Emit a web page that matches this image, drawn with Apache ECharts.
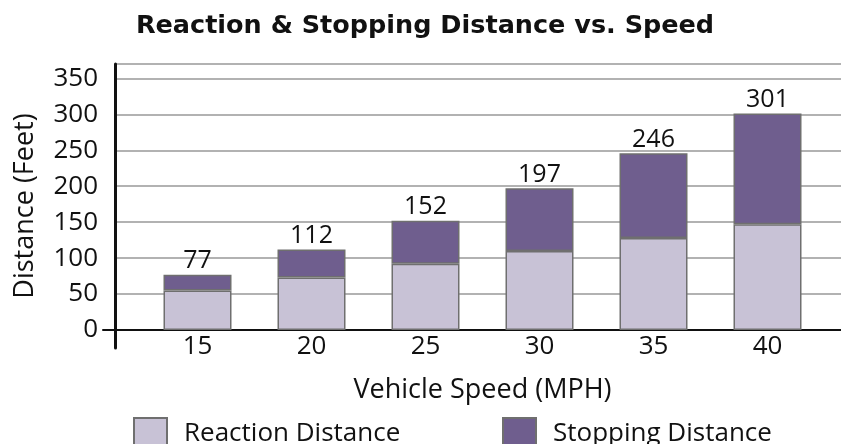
<!DOCTYPE html>
<html><head><meta charset="utf-8">
<script src="https://cdn.jsdelivr.net/npm/echarts@6/dist/echarts.min.js"></script>
<style>html,body{margin:0;padding:0;background:#fff}#c{width:841px;height:444px}</style>
</head><body><div id="c"></div>
<script>
const speeds = ['15', '20', '25', '30', '35', '40'];
const reaction = [55, 73, 92, 110, 128, 147];
const stopping = [22, 39, 60, 87, 118, 154];
const totals = [77, 112, 152, 197, 246, 301];
const yTicks = [0, 50, 100, 150, 200, 250, 300, 350];

const FONT = '"Open Sans", sans-serif';
const chart = echarts.init(document.getElementById('c'), null, {renderer: 'canvas'});
chart.setOption({
  animation: false,
  backgroundColor: '#fff',
  title: {
    text: 'Reaction & Stopping Distance vs. Speed',
    left: 420, top: 8, textAlign: 'center',
    textStyle: {fontFamily: '"DejaVu Sans", sans-serif', fontSize: 25.5, fontWeight: 'bold', color: '#111'}
  },
  legend: [
    {data: ['Reaction Distance'], left: 128, top: 412, itemWidth: 33, itemHeight: 31,
     icon: 'rect', textStyle: {fontFamily: FONT, fontSize: 26, fontWeight: 500, color: '#111', padding: [0,0,0,12]}},
    {data: ['Stopping Distance'], left: 497, top: 412, itemWidth: 33, itemHeight: 31,
     icon: 'rect', textStyle: {fontFamily: FONT, fontSize: 26, fontWeight: 500, color: '#111', padding: [0,0,0,12]}}
  ],
  grid: [
    {left: 115, right: 0, top: 64, bottom: 114, outerBoundsMode: 'none'},
    {left: 140.5, right: 16.5, top: 64, bottom: 114, outerBoundsMode: 'none'},
    {left: 103, right: 0, top: 64, bottom: 96, outerBoundsMode: 'none'}
  ],
  xAxis: [
    {gridIndex: 0, type: 'value', min: 0, max: 1, show: false},
    {gridIndex: 1, type: 'category', data: speeds,
     axisLine: {show: false}, axisTick: {show: false},
     axisLabel: {fontFamily: FONT, fontSize: 26, fontWeight: 500, color: '#111', margin: 4},
     name: 'Vehicle Speed (MPH)', nameLocation: 'middle', nameGap: 47,
     nameTextStyle: {fontFamily: FONT, fontSize: 27, fontWeight: 500, color: '#111'}},
    {gridIndex: 2, type: 'value', min: 0, max: 1,
     axisLine: {show: true, onZero: true, lineStyle: {color: '#111', width: 2}},
     axisTick: {show: false}, axisLabel: {show: false}, splitLine: {show: false}}
  ],
  yAxis: [
    {gridIndex: 0, type: 'value', min: 0, max: 370, interval: 50,
     axisLine: {show: false}, axisTick: {show: false},
     axisLabel: {fontFamily: FONT, fontSize: 26, fontWeight: 500, color: '#111', margin: 17,
       customValues: yTicks},
     splitLine: {show: true, lineStyle: {color: '#999', width: 1.5}}},
    {gridIndex: 1, type: 'value', min: 0, max: 370, show: false},
    {gridIndex: 2, type: 'value', min: -25, max: 370, offset: -12,
     axisLine: {show: true, onZero: false, lineStyle: {color: '#111', width: 3}},
     axisTick: {show: false}, axisLabel: {show: false}, splitLine: {show: false},
     name: 'Distance (Feet)', nameLocation: 'middle', nameGap: 76, nameRotate: 90,
     nameTextStyle: {fontFamily: FONT, fontSize: 27, fontWeight: 500, color: '#111'}}
  ],
  series: [
    {name: 'Reaction Distance', type: 'bar', stack: 'd', xAxisIndex: 1, yAxisIndex: 1,
     data: reaction, barWidth: 68,
     itemStyle: {color: '#c8c2d6', borderColor: '#6f6f6f', borderWidth: 1.5}},
    {name: 'Stopping Distance', type: 'bar', stack: 'd', xAxisIndex: 1, yAxisIndex: 1,
     data: stopping, barWidth: 68,
     itemStyle: {color: '#6f5e8e', borderColor: '#6f6f6f', borderWidth: 1.5},
     label: {show: true, position: 'top', distance: 1,
       fontFamily: FONT, fontSize: 25, fontWeight: 500, color: '#111',
       formatter: p => String(totals[p.dataIndex])}}
  ]
});
</script></body></html>
